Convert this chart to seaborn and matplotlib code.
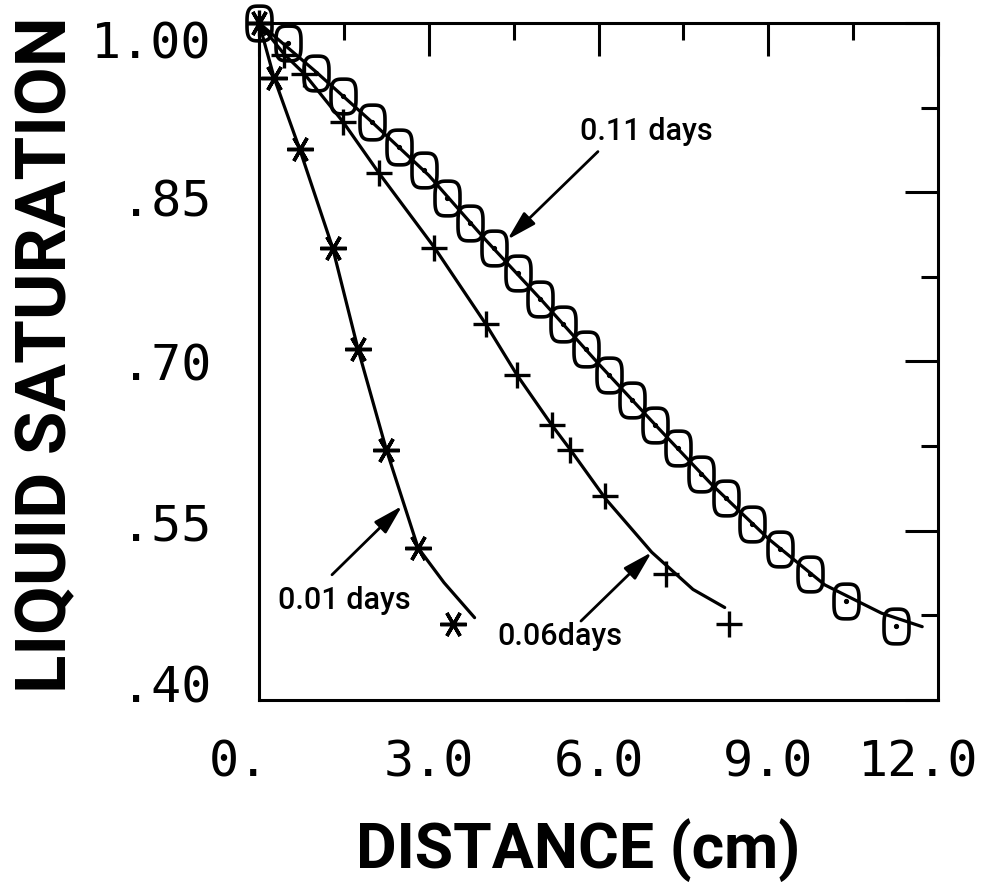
import numpy as np
import matplotlib
matplotlib.use("Agg")
import matplotlib.pyplot as plt
from matplotlib.path import Path
from matplotlib.transforms import ScaledTranslation
import seaborn as sns

# computed curves (solid lines), distance in cm vs liquid saturation
x_line_001 = [0.0, 0.27, 0.72, 1.30, 1.75, 2.25, 2.81, 3.27, 3.81]
s_line_001 = [1.0, 0.951, 0.888, 0.801, 0.711, 0.622, 0.535, 0.504, 0.473]

x_line_006 = [0.0, 0.45, 0.80, 1.49, 2.12, 3.10, 4.01, 4.56, 5.17, 5.50, 6.13, 6.94, 7.67, 8.23]
s_line_006 = [1.0, 0.972, 0.955, 0.912, 0.867, 0.801, 0.733, 0.688, 0.644, 0.622, 0.578, 0.531, 0.498, 0.482]

x_line_011 = [0.0, 1.0, 2.0, 3.0, 4.0, 5.0, 6.0, 7.0, 8.0, 9.0, 10.0, 11.0, 11.72]
s_line_011 = [1.0, 0.957, 0.912, 0.865, 0.808, 0.754, 0.698, 0.644, 0.591, 0.543, 0.502, 0.477, 0.465]

# data points (markers)
x_pts_001 = [0.0, 0.27, 0.72, 1.30, 1.75, 2.25, 2.81, 3.42]
s_pts_001 = [1.0, 0.951, 0.888, 0.801, 0.711, 0.622, 0.535, 0.467]

x_pts_006 = [0.0, 0.45, 0.80, 1.49, 2.12, 3.10, 4.01, 4.56, 5.17, 5.49, 6.11, 7.20, 8.31]
s_pts_006 = [1.0, 0.972, 0.955, 0.912, 0.867, 0.801, 0.733, 0.688, 0.644, 0.622, 0.581, 0.512, 0.467]

x_pts_011 = [0.0, 0.51, 1.01, 1.49, 1.99, 2.47, 2.91, 3.32, 3.73, 4.16, 4.57, 4.97, 5.37,
             5.78, 6.18, 6.59, 6.99, 7.41, 7.81, 8.25, 8.71, 9.21, 9.74, 10.38, 11.26]
s_pts_011 = [1.0, 0.982, 0.956, 0.935, 0.912, 0.890, 0.870, 0.845, 0.823, 0.801, 0.778, 0.755, 0.733,
             0.711, 0.688, 0.666, 0.644, 0.623, 0.600, 0.579, 0.556, 0.534, 0.512, 0.488, 0.466]

x_major = [0, 3, 6, 9, 12]
x_tick_labels = ["0.", "3.0", "6.0", "9.0", "12.0"]
x_minor = [1.5, 4.5, 7.5, 10.5]
y_major = [0.40, 0.55, 0.70, 0.85, 1.00]
y_tick_labels = [".40", ".55", ".70", ".85", "1.00"]
y_minor = [0.475, 0.625, 0.775, 0.925]

# curve labels: (text, text x, text y, arrow tail, arrow tip)
notes = [
    ("0.01 days", 0.33, 0.488, (1.29, 0.511), (2.53, 0.572)),
    ("0.06days", 4.22, 0.456, (5.69, 0.470), (6.94, 0.531)),
    ("0.11 days", 5.67, 0.904, (5.99, 0.886), (4.39, 0.808)),
]

sns.set_style("white")
plt.rcParams["font.family"] = ["Roboto", "DejaVu Sans"]
plt.rcParams["text.color"] = "k"
plt.rcParams["axes.labelcolor"] = "k"
plt.rcParams["xtick.color"] = "k"
plt.rcParams["ytick.color"] = "k"

fig = plt.figure(figsize=(9.87, 8.86), dpi=100)
ax = fig.add_axes([0.2624, 0.2099, 0.6880, 0.7642])

# rounded box marker used for the 0.11 day points
t = np.linspace(0, 2 * np.pi, 90)
bx = 0.72 * np.sign(np.cos(t)) * np.abs(np.cos(t)) ** 0.58
by = np.sign(np.sin(t)) * np.abs(np.sin(t)) ** 0.58
box = Path(np.column_stack([bx, by]), closed=True)

line_kw = dict(color="k", lw=2.3, estimator=None, errorbar=None, sort=False, ax=ax)
sns.lineplot(x=x_line_001, y=s_line_001, **line_kw)
sns.lineplot(x=x_line_006, y=s_line_006, **line_kw)
sns.lineplot(x=x_line_011, y=s_line_011, **line_kw)

mk_kw = dict(color="k", linestyle="", estimator=None, errorbar=None, sort=False, ax=ax,
             markeredgecolor="k", clip_on=False, zorder=4)
sns.lineplot(x=x_pts_001, y=s_pts_001, marker=(6, 2, 90), markersize=19,
             markeredgewidth=2.5, **mk_kw)
sns.lineplot(x=x_pts_006, y=s_pts_006, marker="+", markersize=19,
             markeredgewidth=2.4, **mk_kw)
sns.lineplot(x=x_pts_011, y=s_pts_011, marker=box, markersize=25, markerfacecolor="none",
             markeredgewidth=2.6, **mk_kw)
sns.lineplot(x=x_pts_011, y=s_pts_011, marker="o", markersize=3, **mk_kw)

for txt, tx, ty, tail, tip in notes:
    ax.annotate("", xy=tip, xytext=tail,
                arrowprops=dict(arrowstyle="-|>,head_length=0.9,head_width=0.25",
                                color="k", lw=2, mutation_scale=20,
                                shrinkA=0, shrinkB=0))
    ax.text(tx, ty, txt, fontsize=22, fontweight="medium", ha="left", va="center")

ax.set_xlim(0, 12)
ax.set_ylim(0.40, 1.00)
ax.set_xticks(x_major, x_tick_labels)
ax.set_xticks(x_minor, minor=True)
ax.set_yticks(y_major, y_tick_labels)
ax.set_yticks(y_minor, minor=True)
ax.tick_params(which="both", direction="in", top=True, right=True, width=2.2, color="k")
ax.tick_params(which="major", length=24, labelsize=36, labelfontfamily="DejaVu Sans Mono")
ax.tick_params(which="minor", length=12)
ax.tick_params(axis="x", which="major", pad=28)
ax.tick_params(axis="y", which="major", pad=34)
for sp in ax.spines.values():
    sp.set_linewidth(2.2)
    sp.set_color("k")

# nudge some tick labels as on the original plotter output
for lab, dx in zip(ax.get_xticklabels(), [-20, 0, 0, 0, -20]):
    lab.set_transform(lab.get_transform() + ScaledTranslation(dx / 100, 0, fig.dpi_scale_trans))
for lab, dy in zip(ax.get_yticklabels(), [17, 9, 0, -5, -17]):
    lab.set_transform(lab.get_transform() + ScaledTranslation(0, dy / 100, fig.dpi_scale_trans))

ax.set_xlabel("DISTANCE (cm)", fontsize=45, fontweight="bold", va="center")
ax.xaxis.set_label_coords(0.47, -0.222)
ax.set_ylabel("LIQUID SATURATION", fontsize=51, fontweight="bold", va="center")
ax.yaxis.set_label_coords(-0.313, 0.51)

fig.savefig("out.png", dpi=100)
